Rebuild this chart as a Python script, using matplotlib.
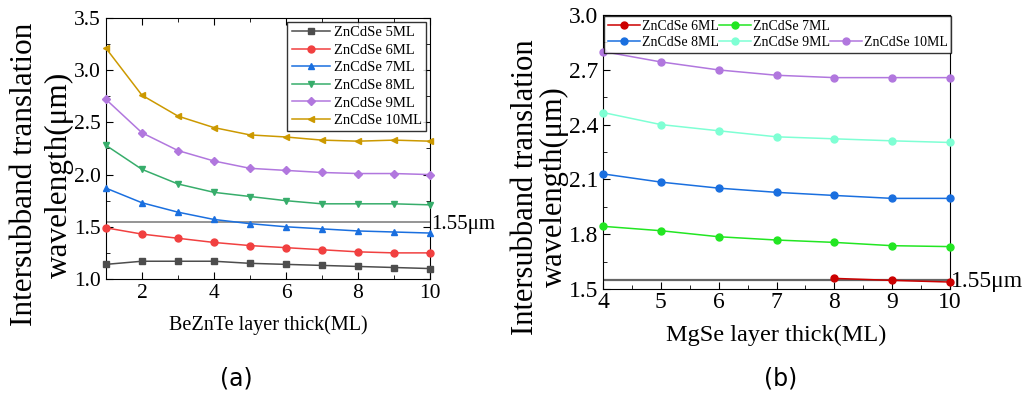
import numpy as np
import matplotlib
matplotlib.use('Agg')
import matplotlib.pyplot as plt
from matplotlib.lines import Line2D
from matplotlib.ticker import MultipleLocator

plt.rcParams['font.family'] = ['Liberation Serif', 'DejaVu Serif']

# (a) BeZnTe barrier
x_a = [1, 2, 3, 4, 5, 6, 7, 8, 9, 10]
labels_a = ['ZnCdSe 5ML', 'ZnCdSe 6ML', 'ZnCdSe 7ML', 'ZnCdSe 8ML', 'ZnCdSe 9ML', 'ZnCdSe 10ML']
ml5 = [1.14, 1.17, 1.17, 1.17, 1.15, 1.14, 1.13, 1.12, 1.11, 1.10]
ml6 = [1.49, 1.43, 1.39, 1.35, 1.32, 1.30, 1.28, 1.26, 1.25, 1.25]
ml7 = [1.87, 1.73, 1.64, 1.57, 1.53, 1.50, 1.48, 1.46, 1.45, 1.44]
ml8 = [2.28, 2.05, 1.91, 1.83, 1.79, 1.75, 1.72, 1.72, 1.72, 1.71]
ml9 = [2.72, 2.40, 2.23, 2.13, 2.06, 2.04, 2.02, 2.01, 2.01, 2.00]
ml10 = [3.21, 2.76, 2.56, 2.45, 2.38, 2.36, 2.33, 2.32, 2.33, 2.32]
colors_a = ['#4d4d4d', '#f14040', '#1a6fdf', '#37ad6b', '#b177de', '#cc9900']
markers_a = ['s', 'o', '^', 'v', 'D', '<']

# (b) MgSe barrier
x_b = [4, 5, 6, 7, 8, 9, 10]
x_b6 = [8, 9, 10]
b6 = [1.558, 1.547, 1.538]
b7 = [1.843, 1.819, 1.786, 1.768, 1.755, 1.737, 1.732]
b8 = [2.130, 2.085, 2.052, 2.029, 2.012, 1.996, 1.996]
b9 = [2.466, 2.400, 2.366, 2.333, 2.322, 2.311, 2.302]
b10 = [2.800, 2.743, 2.699, 2.670, 2.657, 2.657, 2.657]
colors_b = ['#cc0000', '#22e622', '#1a6fdf', '#7fffd4', '#b177de']

target = 1.55

fig = plt.figure(figsize=(10.24, 3.95), dpi=100)

# ---- panel (a)
ax1 = fig.add_axes([0.1035, 0.2937, 0.3164, 0.6608])
for ys, lab, c, m in zip([ml5, ml6, ml7, ml8, ml9, ml10], labels_a, colors_a, markers_a):
    ax1.plot(x_a, ys, color=c, marker=m, markersize=5 if m != 'D' else 4.2, lw=1.1,
             label=lab, clip_on=False, zorder=3)
ax1.axhline(target, color='#8c8c8c', lw=1.3, zorder=2)
ax1.text(10.02, target - 0.03, '1.55μm', fontsize=15, va='center', ha='left')
ax1.set_xlim(1, 10)
ax1.set_ylim(1.0, 3.5)
ax1.xaxis.set_major_locator(MultipleLocator(2))
ax1.xaxis.set_minor_locator(MultipleLocator(1))
ax1.yaxis.set_major_locator(MultipleLocator(0.5))
ax1.yaxis.set_minor_locator(MultipleLocator(0.25))
ax1.tick_params(which='both', direction='in', top=True, right=True, labelsize=15.5)
ax1.tick_params(which='major', length=5)
ax1.tick_params(which='minor', length=3)
ax1.set_xlabel('BeZnTe layer thick(ML)', fontsize=14.5, labelpad=9)
ax1.set_ylabel('Intersubband translation\nwavelength(μm)', fontsize=22.5, linespacing=1.25)
ax1.yaxis.set_label_coords(-0.1, 0.40)
leg1 = ax1.legend(loc='upper right', fontsize=10.5, frameon=True, fancybox=False,
                  edgecolor='black', handlelength=2.6, labelspacing=0.3,
                  borderpad=0.3, handletextpad=0.3, borderaxespad=0.25)
leg1.get_frame().set_linewidth(1.0)

# ---- panel (b)
ax2 = fig.add_axes([0.5889, 0.2684, 0.3389, 0.6937])
ax2.axhline(target, color='#666666', lw=1.6, zorder=2)
h6, = ax2.plot(x_b6, b6, color=colors_b[0], marker='o', markersize=5, lw=1.1, clip_on=False, zorder=3)
h7, = ax2.plot(x_b, b7, color=colors_b[1], marker='o', markersize=5, lw=1.1, clip_on=False, zorder=3)
h8, = ax2.plot(x_b, b8, color=colors_b[2], marker='o', markersize=5, lw=1.1, clip_on=False, zorder=3)
h9, = ax2.plot(x_b, b9, color=colors_b[3], marker='o', markersize=5, lw=1.1, clip_on=False, zorder=3)
h10, = ax2.plot(x_b, b10, color=colors_b[4], marker='o', markersize=5, lw=1.1, clip_on=False, zorder=3)
ax2.text(10.02, target - 0.01, '1.55μm', fontsize=17, va='center', ha='left')
ax2.set_xlim(4, 10)
ax2.set_ylim(1.5, 3.0)
ax2.xaxis.set_major_locator(MultipleLocator(1))
ax2.xaxis.set_minor_locator(MultipleLocator(0.5))
ax2.yaxis.set_major_locator(MultipleLocator(0.3))
ax2.yaxis.set_minor_locator(MultipleLocator(0.15))
ax2.tick_params(which='both', direction='in', labelsize=17)
ax2.tick_params(which='major', length=5)
ax2.tick_params(which='minor', length=3)
ax2.tick_params(axis='x', pad=2)
ax2.set_xlabel('MgSe layer thick(ML)', fontsize=17.5, labelpad=9)
ax2.set_ylabel('Intersubband translation\nwavelength(μm)', fontsize=22, linespacing=1.0)
ax2.yaxis.set_label_coords(-0.097, 0.372)

blank = Line2D([], [], linestyle='none', marker='none')
leg2 = ax2.legend([h6, h8, h7, h9, blank, h10],
                  ['ZnCdSe 6ML', 'ZnCdSe 8ML', 'ZnCdSe 7ML', 'ZnCdSe 9ML', '', 'ZnCdSe 10ML'],
                  ncol=3, loc='upper left', bbox_to_anchor=(0.0, 1.0), fontsize=10,
                  frameon=True, fancybox=False, edgecolor='black', handlelength=2.3,
                  columnspacing=0.0, handletextpad=0.15, labelspacing=0.25,
                  borderpad=0.25, borderaxespad=0.1)
leg2.get_frame().set_linewidth(1.0)

fig.text(0.231, 0.043, '(a)', fontsize=17, family='DejaVu Sans', ha='center', va='center')
fig.text(0.762, 0.043, '(b)', fontsize=17, family='DejaVu Sans', ha='center', va='center')

fig.savefig('out.png', dpi=100)
